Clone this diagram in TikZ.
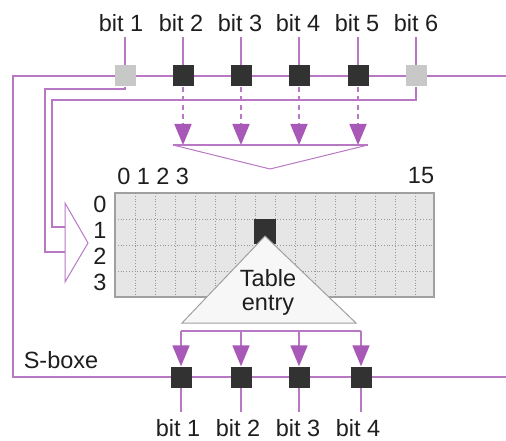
\documentclass[tikz,border=0pt]{standalone}
\usepackage{fontspec}
\setmainfont{Liberation Sans}
\usetikzlibrary{arrows.meta}
\definecolor{purp}{RGB}{184,120,196}
\definecolor{purpdk}{RGB}{168,88,182}
\definecolor{sqdk}{RGB}{50,50,50}
\definecolor{sqgy}{RGB}{200,200,200}
\definecolor{tabfill}{RGB}{230,230,230}
\definecolor{tabline}{RGB}{160,160,160}
\definecolor{txt}{RGB}{30,30,30}
\tikzset{
  pline/.style={draw=purp, line width=1.8pt},
  pthin/.style={draw=purp, line width=1pt},
  dksq/.style={fill=sqdk, minimum size=21pt, inner sep=0pt},
  gysq/.style={fill=sqgy, minimum size=21pt, inner sep=0pt},
  lbl/.style={text=txt, font=\fontsize{23.5}{25}\selectfont, inner sep=1pt},
  ptip/.style={-{Triangle[width=17pt,length=21pt,fill=purpdk,color=purpdk]}},
  gridln/.style={draw=gray!80, line width=0.8pt, dotted},
}
\begin{document}
\begin{tikzpicture}[x=1pt,y=-1pt]
\useasboundingbox (0,0) rectangle (506,441);
% frame coordinates
\coordinate (TL) at (13,76);
\coordinate (TR) at (506,76);
\coordinate (BL) at (13,377);
\coordinate (BR) at (506,377);
\draw[pline] (TR) -- (TL) -- (BL) -- (BR);
% top squares and labels
\foreach \i/\x in {1/121,2/181,3/240,4/298,5/357,6/416}{
  \node[lbl] (l\i) at (\x,23) {bit \i};
}
\node[gysq] (t1) at (125,76) {};
\node[dksq] (t2) at (183,76) {};
\node[dksq] (t3) at (241,76) {};
\node[dksq] (t4) at (299,76) {};
\node[dksq] (t5) at (358,76) {};
\node[gysq] (t6) at (416,76) {};
\foreach \i in {1,...,6}{ \draw[pline] ([yshift=-4pt]l\i.south -| t\i.north) -- (t\i.north); }
% left input arrow
\coordinate (aT) at (65,203);
\coordinate (aB) at (65,282);
\coordinate (aP) at (88,243);
\coordinate (in1) at (65,252);
\coordinate (in6) at (65,227);
\draw[pline] (t1.south) |- (45,89) -- (45,252) -- (in1);
\draw[pline] (t6.south) |- (52,100) -- (52,227) -- (in6);
\draw[pthin, fill=white] (aT) -- (aP) -- (aB) -- cycle;
% dashed arrows and funnel
\coordinate (fL) at (173,145);
\coordinate (fR) at (368,145);
\coordinate (fB) at (270,169);
\foreach \i/\x in {2/183,3/241,4/299,5/358}{
  \coordinate (f\i) at (\x,145);
  \draw[pline, dash pattern=on 5pt off 4pt, ptip] (t\i.south) -- (f\i);
}
\draw[pthin] (fL) -- (fB) -- (fR);
\draw[pline] (fL) -- (fR);
% table
\node[draw=tabline, fill=tabfill, line width=1.2pt, minimum width=319pt, minimum height=104pt, inner sep=0pt] (tab) at (274.5,245) {};
\foreach \y in {219,245,271}{ \draw[gridln] (115,\y) -- (434,\y); }
\foreach \k in {1,...,15}{ \draw[gridln] (115+20*\k,193) -- (115+20*\k,297); }
\foreach \k in {0,...,3}{
  \node[lbl] (c\k) at (124+19.5*\k,176) {\k};
  \node[lbl] (r\k) at (100,204+26.3*\k) {\k};
}
\node[lbl] (c15) at (421,176) {15};
% table entry
\node[fill=sqdk, minimum width=22pt, minimum height=25pt, inner sep=0pt] (entry) at (265,231.5) {};
\draw[draw=tabline, fill=white!94!gray, line width=1pt] (265,236) -- (182,323) -- (356,323) -- cycle;
\node[lbl, align=center, font=\fontsize{23.5}{24}\selectfont] (te) at (268,292) {Table\\entry};
% bottom
\coordinate (gL) at (181,331);
\coordinate (gR) at (361,331);
\draw[pline] (gL) -- (gR);
\foreach \i/\x/\lx in {1/181/178,2/241/238,3/299/298,4/361/358}{
  \node[dksq] (b\i) at (\x,377) {};
  \node[lbl] (bl\i) at (\lx,428) {bit \i};
  \coordinate (g\i) at (\x,331);
  \coordinate (e\i) at (\x,412);
  \draw[pline, ptip] (g\i) -- (b\i.north);
  \draw[pline] (b\i.south) -- (e\i);
}
\node[lbl] (sb) at (61,360) {S-boxe};
\end{tikzpicture}
\end{document}
